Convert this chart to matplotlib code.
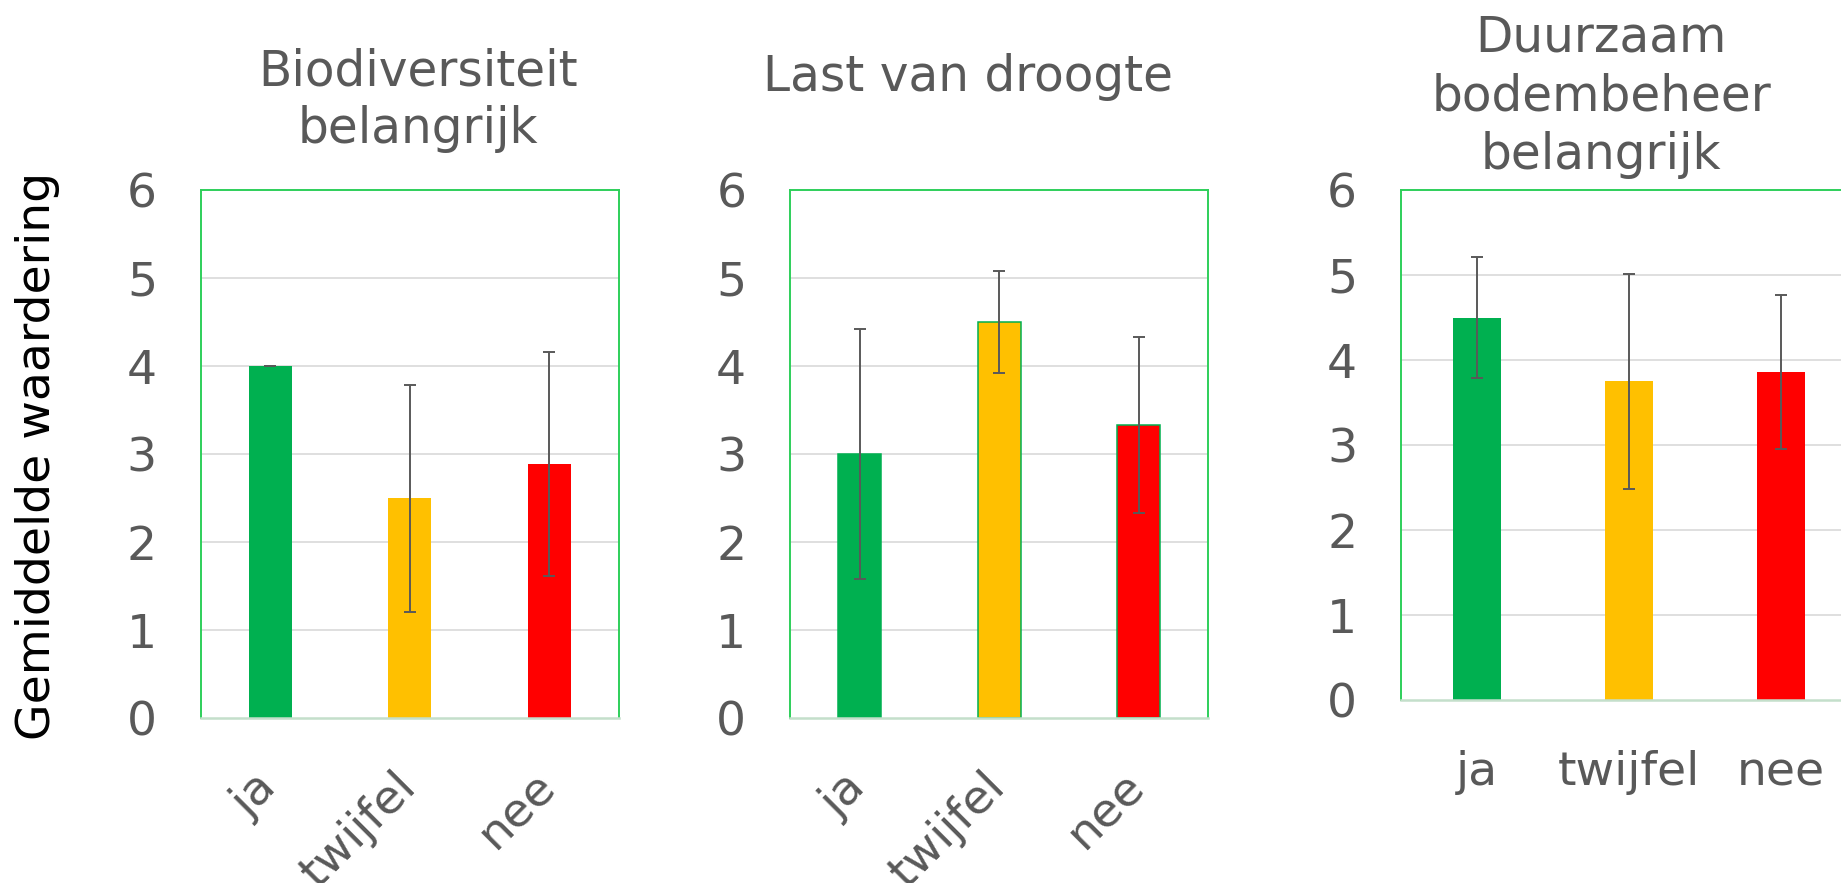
import matplotlib
matplotlib.use("Agg")
import matplotlib.pyplot as plt
import matplotlib.transforms as mtransforms
import numpy as np

# ---- data ----
categories = ['ja', 'twijfel', 'nee']
titles = ['Biodiversiteit\nbelangrijk', 'Last van droogte', 'Duurzaam\nbodembeheer\nbelangrijk']
means_biodiv = [4.00, 2.50, 2.89]
err_biodiv = [0.00, 1.29, 1.27]
means_droogte = [3.00, 4.50, 3.33]
err_droogte = [1.42, 0.58, 1.00]
means_bodem = [4.50, 3.75, 3.86]
err_bodem = [0.71, 1.26, 0.90]
y_ticks = [0, 1, 2, 3, 4, 5, 6]
ylabel = 'Gemiddelde waardering'

# ---- style ----
W, H = 1841, 883
DPI = 100
bar_colors = ['#00B050', '#FFC000', '#FF0000']
text_gray = '#595959'
frame_green = '#2ECF5A'
grid_gray = '#D9D9D9'
plt.rcParams['font.family'] = ['DejaVu Sans']

fig = plt.figure(figsize=(W / DPI, H / DPI), dpi=DPI)

def px_axes(left, right, top, bottom):
    return fig.add_axes([left / W, 1 - bottom / H, (right - left) / W, (bottom - top) / H])

panels = [
    dict(box=(200.7, 619.0, 190.4, 718.2), means=means_biodiv, err=err_biodiv,
         edge=False, rot=True, title_xy=(418, 47)),
    dict(box=(790.0, 1208.3, 190.4, 718.2), means=means_droogte, err=err_droogte,
         edge=True, rot=True, title_xy=(968, 53)),
    dict(box=(1401.0, 1857.0, 190.0, 700.4), means=means_bodem, err=err_bodem,
         edge=False, rot=False, title_xy=(1601, 14)),
]

x = np.arange(len(categories))
for i, p in enumerate(panels):
    ax = px_axes(*p['box'])
    ax.set_xlim(-0.5, 2.5)
    ax.set_ylim(0, 6)
    ax.set_yticks(y_ticks)
    ax.grid(False)
    for yv in [1, 2, 3, 4, 5]:
        ax.axhline(yv, color=grid_gray, lw=1.2, zorder=0)
    if p['edge']:
        ax.bar(x, p['means'], width=0.31, color=bar_colors, edgecolor='#00B050',
               linewidth=1.1, zorder=2)
    else:
        ax.bar(x, p['means'], width=0.31, color=bar_colors, linewidth=0, zorder=2)
    ax.errorbar(x, p['means'], yerr=p['err'], fmt='none', ecolor=text_gray,
                elinewidth=1.4, capsize=4.6, capthick=1.4, zorder=3)
    for s in ['left', 'top', 'right']:
        ax.spines[s].set_color(frame_green)
        ax.spines[s].set_linewidth(1.4)
    ax.spines['bottom'].set_color('#C4DFCB')
    ax.spines['bottom'].set_linewidth(1.8)
    ax.tick_params(axis='y', length=0, pad=31.5, labelsize=34, labelcolor=text_gray)
    ax.set_xticks(x)
    if p['rot']:
        ax.set_xticklabels(categories, rotation=45, ha='right', va='top')
        ax.tick_params(axis='x', length=0, pad=33, labelsize=34, labelcolor=text_gray)
        offset = mtransforms.ScaledTranslation(15 / DPI, 0, fig.dpi_scale_trans)
        for lab in ax.get_xticklabels():
            lab.set_transform(lab.get_transform() + offset)
    else:
        ax.set_xticklabels(categories)
        ax.tick_params(axis='x', length=0, pad=36, labelsize=34, labelcolor=text_gray)
    tx, ty = p['title_xy']
    fig.text(tx / W, 1 - ty / H, titles[i], ha='center', va='top', fontsize=35,
             color=text_gray, linespacing=1.27)

fig.text(38 / W, 1 - 456 / H, ylabel, rotation=90, ha='center', va='center',
         fontsize=34, color='black')

fig.savefig('out.png', dpi=DPI)
